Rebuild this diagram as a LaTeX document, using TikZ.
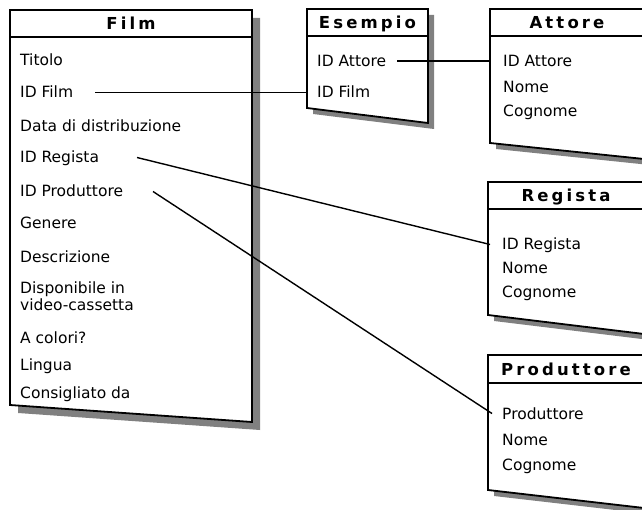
\documentclass[tikz,border=0pt]{standalone}
\usepackage{fontspec}
\setmainfont{DejaVu Sans}
\newfontfamily\headfont[LetterSpace=19]{DejaVu Sans}
\definecolor{shadowgray}{HTML}{808080}

% Entity box: name, left, right, top, header rule, bottom-left y, bottom-right y, shadow offset, title
\newcommand\erbox[9]{%
  \fill[shadowgray] (#2+#8,#4+#8) -- (#3+#8,#4+#8) -- (#3+#8,#7+#8) -- (#2+#8,#6+#8) -- cycle;
  \fill[white] (#2,#4) -- (#3,#4) -- (#3,#7) -- (#2,#6) -- cycle;
  \draw[boxline] (#2,#4) -- (#3,#4) -- (#3,#7) -- (#2,#6) -- cycle;
  \draw[headrule] (#2,#5) -- (#3,#5);
  \node[titletext] (#1-title) at ({(#2+#3)/2},{(#4+#5)/2}) {#9};
}

\begin{document}
\begin{tikzpicture}[x=1pt,y=-1pt,
  boxline/.style={line width=1.8pt, line join=miter},
  headrule/.style={line width=1.4pt},
  link/.style={line width=1.4pt},
  titletext/.style={inner sep=0pt, text height=12pt, text depth=0pt,
    font=\headfont\bfseries\fontsize{16.5}{19}\selectfont},
  rowtext/.style={anchor=base west, inner sep=0pt, text height=11pt, text depth=0pt,
    font=\fontsize{15.5}{18}\selectfont}]
\useasboundingbox (0,0) rectangle (642,510);
\clip (0,0) rectangle (642,510);

% entity boxes
\erbox{film}{10}{252}{10}{37}{405}{422}{8}{Film}
\erbox{esempio}{307}{428}{9}{36}{108}{123}{6}{Esempio}
\erbox{attore}{490}{644}{9}{36}{143}{159}{6}{Attore}
\erbox{regista}{488}{644}{182}{209}{315}{334}{6}{Regista}
\erbox{produttore}{488}{644}{355}{383}{490}{508}{6}{Produttore}

% Film fields
\node[rowtext] (film-titolo) at (20,66) {Titolo};
\node[rowtext] (film-idfilm) at (20,98) {ID Film};
\node[rowtext] (film-data) at (20,132) {Data di distribuzione};
\node[rowtext] (film-idreg) at (20,163) {ID Regista};
\node[rowtext] (film-idprod) at (20,197) {ID Produttore};
\node[rowtext] (film-genere) at (20,229) {Genere};
\node[rowtext] (film-descr) at (20,263) {Descrizione};
\node[rowtext] (film-disp) at (20,294) {Disponibile in};
\node[rowtext] (film-disp2) at (20,311) {video-cassetta};
\node[rowtext] (film-colori) at (20,343) {A colori?};
\node[rowtext] (film-lingua) at (20,370) {Lingua};
\node[rowtext] (film-consigliato) at (20,398) {Consigliato da};

% Esempio fields
\node[rowtext] (es-idatt) at (317,66.5) {ID Attore};
\node[rowtext] (es-idfilm) at (317,98) {ID Film};

% Attore fields
\node[rowtext] (att-id) at (503,66.5) {ID Attore};
\node[rowtext] (att-nome) at (503,93) {Nome};
\node[rowtext] (att-cognome) at (503,117) {Cognome};

% Regista fields
\node[rowtext] (reg-id) at (502,250) {ID Regista};
\node[rowtext] (reg-nome) at (502,274) {Nome};
\node[rowtext] (reg-cognome) at (502,298) {Cognome};

% Produttore fields
\node[rowtext] (prod-id) at (502,419) {Produttore};
\node[rowtext] (prod-nome) at (502,445) {Nome};
\node[rowtext] (prod-cognome) at (502,470) {Cognome};

% relationships
\draw[link] ([xshift=75pt]film-idfilm.west) -- ([xshift=-9pt]es-idfilm.west);
\draw[link] ([xshift=80pt]es-idatt.west) -- ([xshift=-12pt]att-id.west);
\draw[link] ([xshift=117pt]film-idreg.west) -- ([xshift=-12pt]reg-id.west);
\draw[link] ([xshift=133pt]film-idprod.west) -- ([xshift=-10pt]prod-id.west);
\end{tikzpicture}
\end{document}
